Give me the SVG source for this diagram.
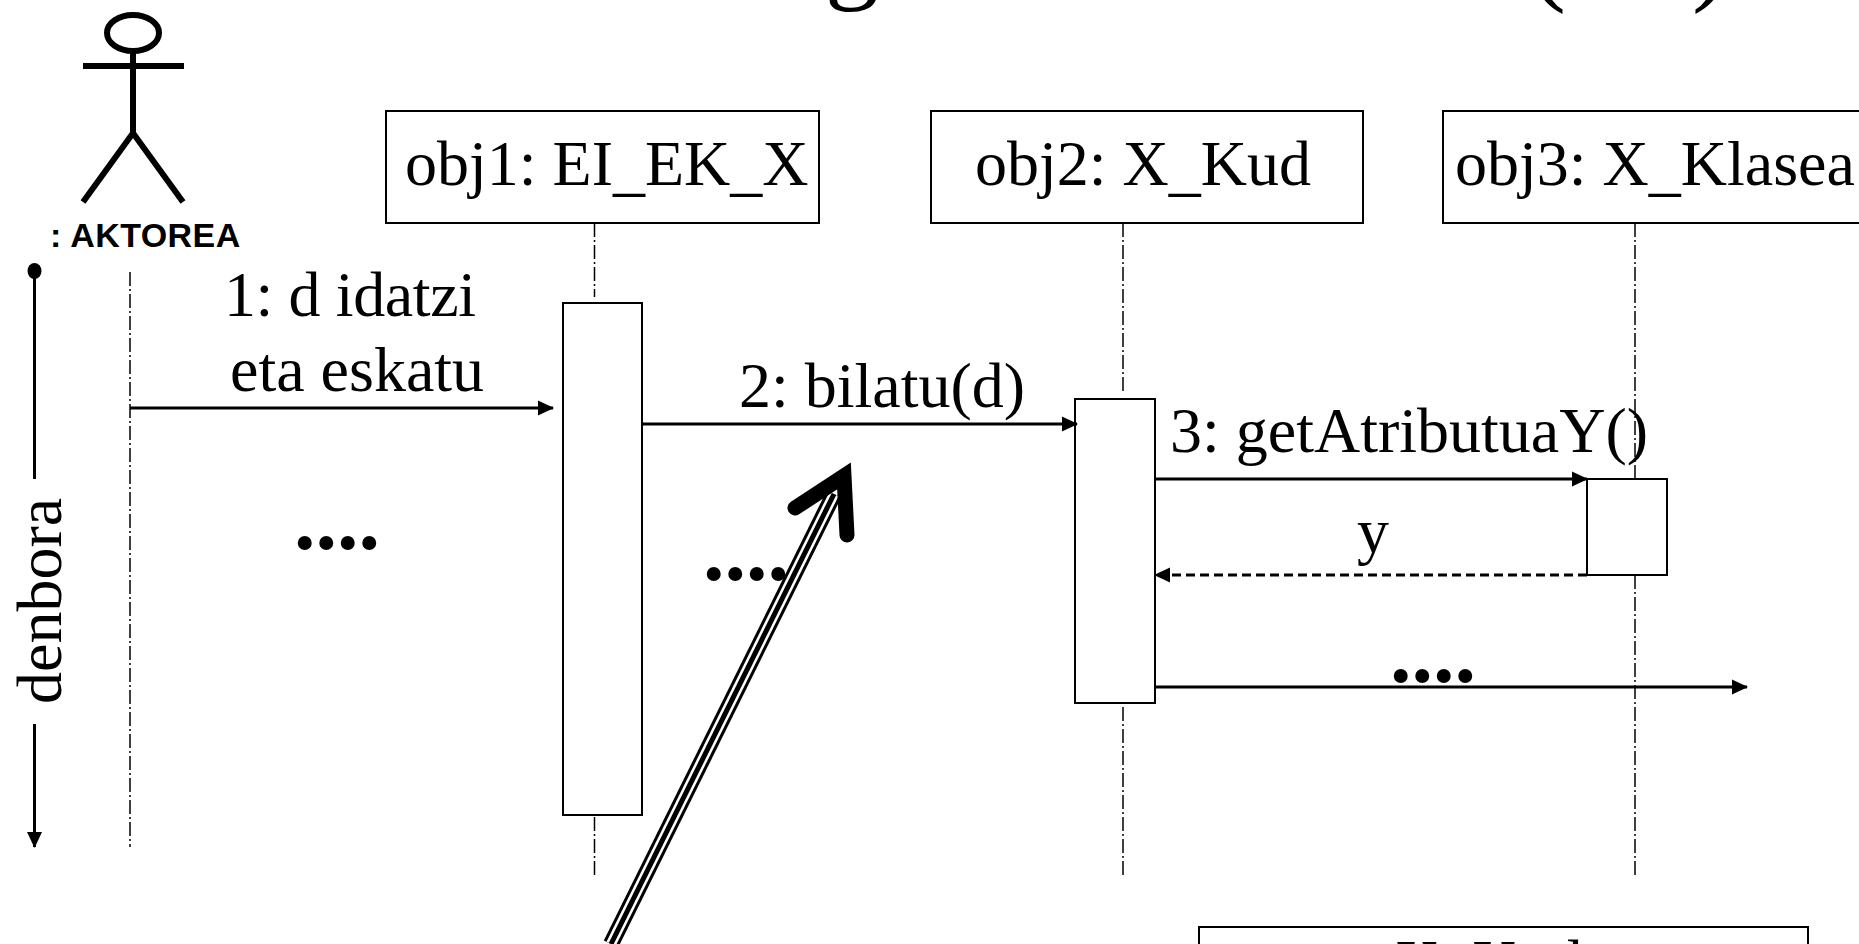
<svg xmlns="http://www.w3.org/2000/svg" width="1859" height="944" viewBox="0 0 1859 944">
<style>
text{font-family:"Liberation Serif","Times New Roman",serif;font-size:64px;fill:#000}
.box{fill:#fff;stroke:#000;stroke-width:2}
.life{fill:none;stroke:#000;stroke-width:1.5;stroke-dasharray:14 3 2 3}
.msg{fill:none;stroke:#000;stroke-width:3}
.dots{font-weight:bold;font-size:86px}
.fig{fill:none;stroke:#000;stroke-width:6}
.title{font-size:108px}
</style>
<defs>
<marker id="ah" markerUnits="userSpaceOnUse" viewBox="0 0 16 16" markerWidth="16" markerHeight="16" refX="15" refY="8" orient="auto"><path d="M0 0.5L16 8L0 15.5Z" fill="#000"/></marker>
</defs>
<rect width="1859" height="944" fill="#fff"/>
<g id="title">
<text class="title" x="825" y="-11">g</text>
<text class="title" x="1530" y="-9">(</text>
<text class="title" x="1692" y="-9">)</text>
</g>
<g id="lifelines">
<path class="life" d="M130 272V847"/>
<path class="life" d="M594.5 223V297M594.5 817V877"/>
<path class="life" d="M1123 223V393M1123 707V877"/>
<path class="life" d="M1635 223V877"/>
</g>
<g id="actor">
<ellipse class="fig" cx="133" cy="33" rx="26" ry="18"/>
<path class="fig" d="M83 66H184M133 51V133M83 202L133 133L183 202"/>
<text x="50" y="247" style="font-family:'Liberation Sans',Arial,sans-serif;font-weight:bold;font-size:34px;letter-spacing:.4px">: AKTOREA</text>
</g>
<g id="obj1"><rect class="box" x="386" y="111" width="433" height="112"/><text x="405" y="185">obj1: EI<tspan dy="4">_</tspan><tspan dy="-4">EK</tspan><tspan dy="4">_</tspan><tspan dy="-4">X</tspan></text></g>
<g id="obj2"><rect class="box" x="931" y="111" width="432" height="112"/><text x="975" y="185">obj2: X<tspan dy="4">_</tspan><tspan dy="-4">Kud</tspan></text></g>
<g id="obj3"><rect class="box" x="1443" y="111" width="430" height="112"/><text x="1455" y="185">obj3: X<tspan dy="4">_</tspan><tspan dy="-4">Klasea</tspan></text></g>
<g id="act1"><rect class="box" x="563" y="303" width="79" height="512"/></g>
<g id="act2"><rect class="box" x="1075" y="399" width="80" height="304"/></g>
<g id="act3"><rect class="box" x="1587" y="479" width="80" height="96"/></g>
<g id="time">
<ellipse cx="34.5" cy="271" rx="7" ry="8"/>
<path class="msg" d="M34.5 271V479"/>
<path class="msg" d="M34.5 724V847" marker-end="url(#ah)"/>
<text transform="translate(61 704) rotate(-90)">denbora</text>
</g>
<g id="connectors">
<path class="msg" d="M130 408H553" marker-end="url(#ah)"/>
<path class="msg" d="M642 424H1077" marker-end="url(#ah)"/>
<path class="msg" d="M1155 479H1587" marker-end="url(#ah)"/>
<path class="msg" d="M1587 575H1155" stroke-dasharray="9 5" marker-end="url(#ah)"/>
<path class="msg" d="M1155 687H1747" marker-end="url(#ah)"/>
</g>
<g id="labels">
<text x="224" y="316" style="letter-spacing:-.4px">1: d idatzi</text>
<text x="230" y="391">eta eskatu</text>
<text x="739" y="407">2: bilatu(d)</text>
<text x="1170" y="452">3: getAtributuaY()</text>
<text x="1357" y="552">y</text>
<text class="dots" x="294" y="549">....</text>
<text class="dots" x="703" y="580">....</text>
<text class="dots" x="1390" y="682">....</text>
</g>
<g id="bigarrow">
<path d="M611 944L834 494" fill="none" stroke="#000" stroke-width="16"/>
<path d="M611 944L834 494" fill="none" stroke="#fff" stroke-width="10"/>
<path d="M611 944L834 494" fill="none" stroke="#000" stroke-width="5"/>
<path d="M795 508L844 476L847 535" fill="none" stroke="#000" stroke-width="15" stroke-linecap="round" stroke-linejoin="miter" stroke-miterlimit="10"/>
</g>
<g id="bottom"><rect class="box" x="1199" y="927" width="609" height="60"/><text x="1394" y="984">X_Kud</text></g>
</svg>
